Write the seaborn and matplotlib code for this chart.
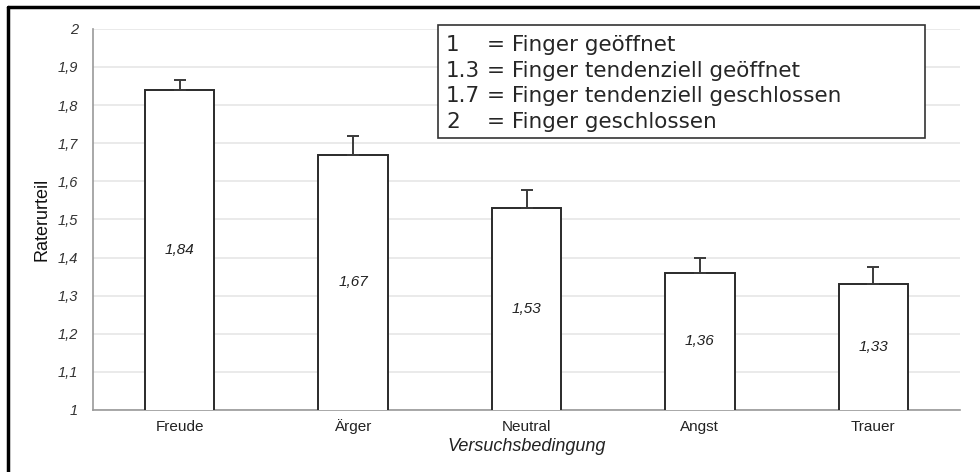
#!/usr/bin/env python3

import matplotlib

matplotlib.use("Agg")
import matplotlib.pyplot as plt
import pandas as pd
import seaborn as sns
from matplotlib.lines import Line2D

OUTPUT = "out.png"

conditions = ["Freude", "Ärger", "Neutral", "Angst", "Trauer"]
means = [1.84, 1.67, 1.53, 1.36, 1.33]
errors = [0.025, 0.05, 0.047, 0.04, 0.045]
y_ticks = [1.0, 1.1, 1.2, 1.3, 1.4, 1.5, 1.6, 1.7, 1.8, 1.9, 2.0]
y_tick_labels = ["1", "1,1", "1,2", "1,3", "1,4", "1,5", "1,6", "1,7", "1,8", "1,9", "2"]
key_codes = ["1", "1.3", "1.7", "2"]
key_texts = [
    "= Finger geöffnet",
    "= Finger tendenziell geöffnet",
    "= Finger tendenziell geschlossen",
    "= Finger geschlossen",
]


def plot_raterurteil(dataset: pd.DataFrame):
    fig = plt.figure(figsize=(9.8, 4.72), dpi=100)
    ax = fig.add_axes([0.0949, 0.1314, 0.8847, 0.8076])

    sns.barplot(
        data=dataset,
        x="bedingung",
        y="mittel",
        color="white",
        edgecolor="#2a2a2a",
        linewidth=1.4,
        width=0.4,
        errorbar=None,
        ax=ax,
        zorder=3,
    )

    n = len(dataset)
    ax.errorbar(
        range(n),
        dataset["mittel"],
        yerr=[[0] * n, dataset["fehler"]],
        fmt="none",
        ecolor="#3a3a3a",
        elinewidth=1.4,
        capsize=4,
        capthick=1.4,
        zorder=4,
    )

    # Werte mittig in die Balken
    for i, v in enumerate(dataset["mittel"]):
        ax.text(
            i,
            (1 + v) / 2,
            f"{v:.2f}".replace(".", ","),
            ha="center",
            va="center",
            style="italic",
            fontsize=11,
            color="#222222",
            zorder=5,
        )

    ax.set_xlim(-0.5, n - 0.5)
    ax.set_ylim(1, 2)
    ax.set_yticks(y_ticks)
    ax.set_yticklabels(y_tick_labels, style="italic", fontsize=10.5, color="#333333")
    ax.tick_params(axis="y", length=5, color="#999999", pad=6)
    ax.tick_params(axis="x", length=0, pad=15, labelsize=11, labelcolor="#222222")
    for lbl in ax.get_xticklabels():
        lbl.set_va("baseline")

    ax.grid(axis="y", color="#e6e6e6", linewidth=1.2, zorder=0)
    ax.set_axisbelow(True)
    for side in ["top", "right"]:
        ax.spines[side].set_visible(False)
    for side in ["left", "bottom"]:
        ax.spines[side].set_color("#999999")
        ax.spines[side].set_linewidth(1.2)

    ax.set_xlabel("Versuchsbedingung", style="italic", fontsize=13, color="#222222", labelpad=3)
    ax.set_ylabel("Raterurteil", fontsize=13, color="#111111", labelpad=5)

    # Legendenkasten
    box_x0, box_y0, box_x1, box_y1 = 438, 25, 925, 138
    fig.add_artist(
        plt.Rectangle(
            (box_x0 / 980, 1 - box_y1 / 472),
            (box_x1 - box_x0) / 980,
            (box_y1 - box_y0) / 472,
            transform=fig.transFigure,
            facecolor="white",
            edgecolor="#333333",
            linewidth=1.2,
            zorder=10,
        )
    )
    for k, (code, txt) in enumerate(zip(key_codes, key_texts)):
        y = 1 - (45 + k * 25.7) / 472
        fig.text(446 / 980, y, code, fontsize=15.5, va="center", family="DejaVu Sans", zorder=11)
        fig.text(487 / 980, y, txt, fontsize=15.5, va="center", family="DejaVu Sans", zorder=11)

    # aeusserer Rahmen
    fig.add_artist(Line2D([7.5 / 980, 7.5 / 980], [0, 1 - 6.5 / 472], color="black", linewidth=2.5))
    fig.add_artist(Line2D([7.5 / 980, 1], [1 - 6.5 / 472, 1 - 6.5 / 472], color="black", linewidth=2.5))

    fig.savefig(OUTPUT, dpi=100)


def main():
    df = pd.DataFrame({"bedingung": conditions, "mittel": means, "fehler": errors})

    sns.set_style("white")
    plt.rcParams["font.family"] = ["Liberation Sans", "DejaVu Sans"]

    plot_raterurteil(df)


if __name__ == "__main__":
    main()
